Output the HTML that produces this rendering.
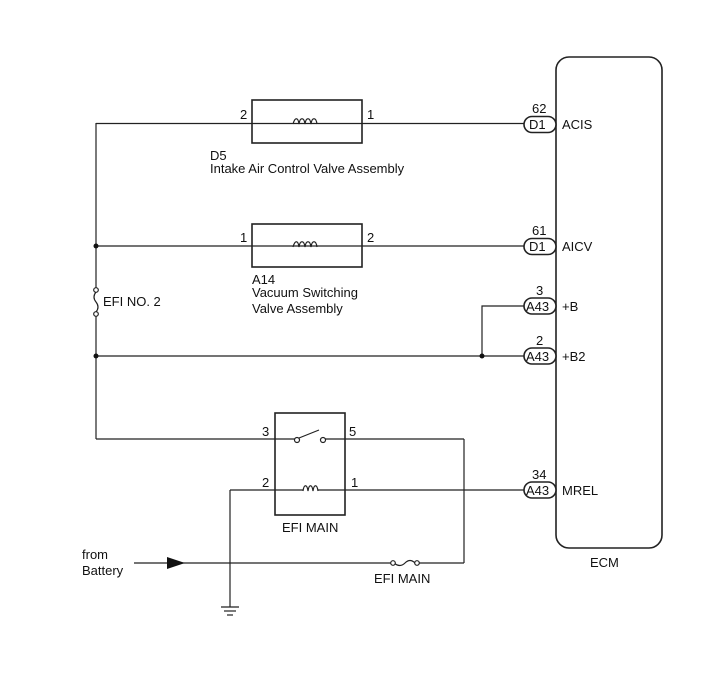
<!DOCTYPE html>
<html><head><meta charset="utf-8"><style>
html,body{margin:0;padding:0;background:#fff;}
svg{display:block;}
text{font-family:"Liberation Sans",Arial,sans-serif;font-size:13px;fill:#111;}
</style></head><body>
<svg width="713" height="681" viewBox="0 0 713 681" xmlns="http://www.w3.org/2000/svg">
<g stroke="#222" stroke-width="1.2" fill="none">
<rect x="556" y="57" width="106" height="491" rx="13" ry="13" stroke-width="1.6"/>
<line x1="96" y1="123" x2="96" y2="289"/>
<line x1="96" y1="314" x2="96" y2="439"/>
<line x1="96" y1="123.5" x2="524" y2="123.5"/>
<rect x="252" y="100" width="110" height="43" stroke-width="1.6"/>
<line x1="96" y1="246" x2="524" y2="246"/>
<rect x="252" y="224" width="110" height="43" stroke-width="1.6"/>
<line x1="96" y1="356" x2="524" y2="356"/>
<polyline points="482,356 482,306 524,306"/>
<line x1="96" y1="439" x2="296" y2="439"/>
<line x1="324" y1="439" x2="464" y2="439"/>
<line x1="464" y1="439" x2="464" y2="563"/>
<rect x="275" y="413" width="70" height="102" stroke-width="1.6"/>
<line x1="299" y1="438" x2="319" y2="430"/>
<circle cx="297" cy="440" r="2.5" fill="#fff"/>
<circle cx="323" cy="440" r="2.5" fill="#fff"/>
<line x1="230" y1="490" x2="303" y2="490"/>
<line x1="318" y1="490" x2="524" y2="490"/>
<line x1="230" y1="490" x2="230" y2="607"/>
<line x1="221" y1="607" x2="239" y2="607"/>
<line x1="224" y1="611" x2="236" y2="611"/>
<line x1="227" y1="615" x2="233" y2="615"/>
<line x1="134" y1="563" x2="392" y2="563"/>
<line x1="417" y1="563" x2="464" y2="563"/>
<path d="M394,563 q6,5 11,0 t10,0"/>
<circle cx="393" cy="563" r="2.3" fill="#fff"/>
<circle cx="417" cy="563" r="2.3" fill="#fff"/>
<circle cx="96" cy="290" r="2.3" fill="#fff"/>
<circle cx="96" cy="314" r="2.3" fill="#fff"/>
<path d="M96,292 q-4,5 0,10 t0,10"/>
<path d="M293,124 c2,-7 5,-7 6,0 c1,-7 5,-7 6,0 c1,-7 5,-7 6,0 c1,-7 5,-7 6,0" />
<path d="M293,247 c2,-7 5,-7 6,0 c1,-7 5,-7 6,0 c1,-7 5,-7 6,0 c1,-7 5,-7 6,0" />
<path d="M303,491 c1,-7 4,-7 5,0 c1,-7 4,-7 5,0 c1,-7 4,-7 5,0"/>
<rect x="524" y="116.5" width="32" height="16" rx="8" fill="#fff" stroke-width="1.6"/>
<rect x="524" y="238.5" width="32" height="16" rx="8" fill="#fff" stroke-width="1.6"/>
<rect x="524" y="298" width="32" height="16" rx="8" fill="#fff" stroke-width="1.6"/>
<rect x="524" y="348" width="32" height="16" rx="8" fill="#fff" stroke-width="1.6"/>
<rect x="524" y="482" width="32" height="16" rx="8" fill="#fff" stroke-width="1.6"/>
</g>
<circle cx="96" cy="246" r="2.5" fill="#111"/>
<circle cx="96" cy="356" r="2.5" fill="#111"/>
<circle cx="482" cy="356" r="2.5" fill="#111"/>
<polygon points="167,557 185,563 167,569" fill="#111"/>
<text x="240" y="119">2</text><text x="367" y="119">1</text>
<text x="240" y="242">1</text><text x="367" y="242">2</text>
<text x="210" y="160">D5</text>
<text x="210" y="173">Intake Air Control Valve Assembly</text>
<text x="252" y="284">A14</text>
<text x="252" y="297">Vacuum Switching</text>
<text x="252" y="313">Valve Assembly</text>
<text x="103" y="306">EFI NO. 2</text>
<text x="262" y="436">3</text><text x="349" y="436">5</text>
<text x="262" y="487">2</text><text x="351" y="487">1</text>
<text x="282" y="532">EFI MAIN</text>
<text x="374" y="583">EFI MAIN</text>
<text x="82" y="559">from</text>
<text x="82" y="575">Battery</text>
<text x="590" y="567">ECM</text>
<text x="532" y="113">62</text><text x="529" y="129">D1</text><text x="562" y="129">ACIS</text>
<text x="532" y="235">61</text><text x="529" y="251">D1</text><text x="562" y="251">AICV</text>
<text x="536" y="295">3</text><text x="526" y="311">A43</text><text x="562" y="311">+B</text>
<text x="536" y="345">2</text><text x="526" y="361">A43</text><text x="562" y="361">+B2</text>
<text x="532" y="479">34</text><text x="526" y="495">A43</text><text x="562" y="495">MREL</text>
</svg>
</body></html>
